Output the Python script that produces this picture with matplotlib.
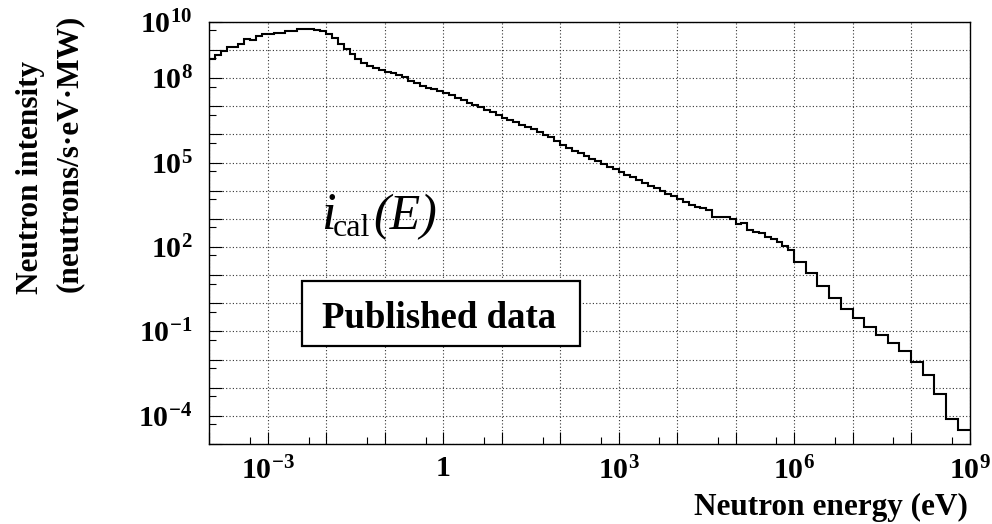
import numpy as np
import matplotlib
matplotlib.use("Agg")
import matplotlib.pyplot as plt
from matplotlib.patches import Rectangle
from matplotlib.ticker import FixedLocator, FixedFormatter

plt.rcParams['font.family'] = ['Liberation Serif', 'DejaVu Serif']
plt.rcParams['mathtext.fontset'] = 'custom'
plt.rcParams['mathtext.rm'] = 'Liberation Serif'
plt.rcParams['mathtext.it'] = 'Liberation Serif:italic'
plt.rcParams['mathtext.bf'] = 'Liberation Serif:bold'

# ---- data -------------------------------------------------------------
# bin edges (log10 of energy in eV): 0.1-decade bins from 1e-4 to 1e6,
# then 0.2-decade bins from 1e6 to 1e9
fine_edge_exp = np.round(np.arange(-4.0, 6.0001, 0.1), 3)
coarse_edge_exp = np.round(np.arange(6.2, 9.0001, 0.2), 3)

# log10 of neutron intensity per bin
log_intensity_fine = [
    8.68, 8.82, 8.98, 9.10, 9.12, 9.22, 9.40, 9.36, 9.50, 9.56,   # 1e-4 .. 1e-3
    9.56, 9.59, 9.62, 9.66, 9.69, 9.74, 9.75, 9.75, 9.72, 9.66,   # 1e-3 .. 1e-2
    9.58, 9.42, 9.22, 9.02, 8.86, 8.68, 8.53, 8.43, 8.35, 8.29,   # 1e-2 .. 1e-1
    8.23, 8.17, 8.10, 8.03, 7.91, 7.82, 7.72, 7.66, 7.60, 7.55,   # 1e-1 .. 1
    7.46, 7.39, 7.31, 7.22, 7.13, 7.05, 6.96, 6.87, 6.78, 6.69,   # 1 .. 10
    6.60, 6.51, 6.43, 6.35, 6.27, 6.18, 6.08, 5.99, 5.90, 5.78,   # 10 .. 1e2
    5.63, 5.52, 5.42, 5.33, 5.25, 5.14, 5.04, 4.95, 4.86, 4.77,   # 1e2 .. 1e3
    4.68, 4.57, 4.48, 4.38, 4.27, 4.18, 4.09, 3.98, 3.88, 3.80,   # 1e3 .. 1e4
    3.72, 3.60, 3.50, 3.42, 3.37, 3.31, 3.08, 3.08, 3.05, 2.98,   # 1e4 .. 1e5
    2.82, 2.85, 2.61, 2.55, 2.50, 2.37, 2.27, 2.16, 2.05, 1.90,   # 1e5 .. 1e6
]
log_intensity_coarse = [
    1.48, 1.08, 0.61, 0.19, -0.20,                                  # 1e6 .. 1e7
    -0.53, -0.85, -1.14, -1.40, -1.68,                              # 1e7 .. 1e8
    -2.08, -2.55, -3.23, -4.11, -4.52,                              # 1e8 .. 1e9
]

x_tick_exp = [-3, 0, 3, 6, 9]
x_tick_labels = [r'$\mathbf{10^{-3}}$', r'$\mathbf{1}$', r'$\mathbf{10^{3}}$',
                 r'$\mathbf{10^{6}}$', r'$\mathbf{10^{9}}$']
y_tick_exp = [10, 8, 5, 2, -1, -4]
y_tick_labels = [r'$\mathbf{10^{10}}$', r'$\mathbf{10^{8}}$', r'$\mathbf{10^{5}}$',
                 r'$\mathbf{10^{2}}$', r'$\mathbf{10^{-1}}$', r'$\mathbf{10^{-4}}$']

# ---- figure -----------------------------------------------------------
W, H = 992, 524
fig = plt.figure(figsize=(W / 100, H / 100), dpi=100)
fig.patch.set_facecolor('white')
L, R, T, B = 209.2, 969.5, 21.85, 444.0
ax = fig.add_axes([L / W, 1 - B / H, (R - L) / W, (B - T) / H])

edges = 10.0 ** np.concatenate([fine_edge_exp, coarse_edge_exp])
values = 10.0 ** np.array(log_intensity_fine + log_intensity_coarse)
ax.stairs(values, edges, baseline=None, color='black', linewidth=1.5, zorder=3)

ax.set_xscale('log')
ax.set_yscale('log')
ax.set_xlim(1e-4, 1e9)
ax.set_ylim(1e-5, 1e10)

# x ticks: major at each decade, label only selected; minor at 5x10^n
x_dec = list(range(-4, 10))
ax.xaxis.set_major_locator(FixedLocator([10.0 ** e for e in x_dec]))
ax.xaxis.set_major_formatter(FixedFormatter(
    [x_tick_labels[x_tick_exp.index(e)] if e in x_tick_exp else '' for e in x_dec]))
ax.xaxis.set_minor_locator(FixedLocator([5 * 10.0 ** e for e in range(-4, 9)]))
ax.xaxis.set_minor_formatter(FixedFormatter([''] * 13))

y_dec = list(range(-5, 11))
ax.yaxis.set_major_locator(FixedLocator([10.0 ** e for e in y_dec]))
ax.yaxis.set_major_formatter(FixedFormatter(
    [y_tick_labels[y_tick_exp.index(e)] if e in y_tick_exp else '' for e in y_dec]))
ax.yaxis.set_minor_locator(FixedLocator([5 * 10.0 ** e for e in range(-5, 10)]))
ax.yaxis.set_minor_formatter(FixedFormatter([''] * 15))

ax.tick_params(axis='both', which='both', direction='in', color='black', width=0.8)
ax.tick_params(axis='x', which='major', length=8.3, labelsize=21.5, pad=9)
ax.tick_params(axis='x', which='minor', length=5.2)
ax.tick_params(axis='y', which='major', length=9.5, labelsize=21.5, pad=12)
ax.tick_params(axis='y', which='minor', length=5.2)

ax.grid(True, which='major', linestyle=(0, (1, 2)), color='#333333', linewidth=0.8)
for s in ax.spines.values():
    s.set_linewidth(1.0)
    s.set_color('black')

# axis labels
fig.text(968 / W, 1 - 515 / H, 'Neutron energy (eV)', ha='right', va='baseline',
         fontsize=22.5, fontweight='bold')
fig.text(31 / W, 1 - 294 / H, 'Neutron intensity', rotation=90, ha='center',
         va='bottom', fontsize=22.5, fontweight='bold')
fig.text(69 / W, 1 - 292 / H, '(neutrons/s\u00b7eV\u00b7MW)', rotation=90, ha='center',
         va='bottom', fontsize=22.5, fontweight='bold')

# annotation i_cal(E)
fig.text(321 / W, 1 - 229 / H, 'i', ha='left', va='baseline', fontsize=38,
         fontstyle='italic')
fig.text(333 / W, 1 - 236 / H, 'cal', ha='left', va='baseline', fontsize=23)
fig.text(373 / W, 1 - 229 / H, '(E)', ha='left', va='baseline', fontsize=36,
         fontstyle='italic')

bx0, by0, bx1, by1 = 301.7, 281.0, 580.0, 345.7
fig.add_artist(Rectangle((bx0 / W, 1 - by1 / H), (bx1 - bx0) / W, (by1 - by0) / H,
                         transform=fig.transFigure, facecolor='white',
                         edgecolor='black', linewidth=1.6, zorder=5))
fig.text(439.5 / W, 1 - 327.7 / H, 'Published data', ha='center', va='baseline',
         fontsize=26.5, fontweight='bold', zorder=6)

fig.savefig('out.png', dpi=100)
